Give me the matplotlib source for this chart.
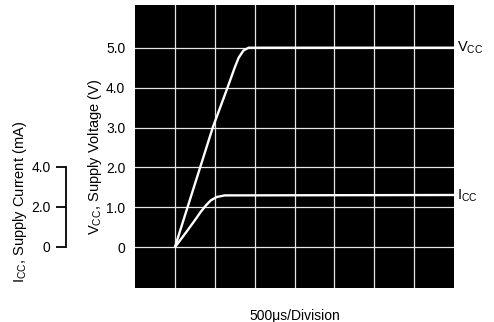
import matplotlib
matplotlib.use("Agg")
import matplotlib.pyplot as plt

plt.rcParams["font.family"] = ["Liberation Sans", "DejaVu Sans"]

# time in divisions (500 us / division)
vcc_t = [1.0, 1.95, 2.32, 2.5, 2.6, 2.72, 2.85, 8.0]
vcc_v = [0.0, 3.0, 4.0, 4.5, 4.75, 4.93, 5.0, 5.0]
icc_t = [1.0, 1.3, 1.5, 1.65, 1.78, 1.9, 2.05, 2.25, 8.0]
icc_ma = [0.0, 0.8, 1.35, 1.78, 2.1, 2.35, 2.52, 2.6, 2.62]

v_ticks = [0, 1, 2, 3, 4, 5]
v_labels = ["0", "1.0", "2.0", "3.0", "4.0", "5.0"]
i_ticks = [0, 2, 4]
i_labels = ["0", "2.0", "4.0"]
ma_per_volt = 2.0  # 4.0 mA on the current scale lines up with 2.0 V

fig = plt.figure(figsize=(4.94, 3.22), dpi=100)
ax = fig.add_axes([135 / 494, 1 - 288 / 322, 319 / 494, 283 / 322])
ax.set_facecolor("black")
ax.set_xlim(0, 8)
ax.set_ylim(-1.02, 6.07)
ax.set_xticks(range(1, 8))
ax.set_xticklabels([])
ax.set_yticks(v_ticks)
ax.set_yticklabels(v_labels, fontsize=10)
ax.tick_params(length=0, pad=7)
ax.grid(True, color="#e6e6e6", linewidth=0.9)
for s in ax.spines.values():
    s.set_visible(False)

ax.plot(vcc_t, vcc_v, color="white", linewidth=1.7, solid_capstyle="butt")
ax.plot(icc_t, [m / ma_per_volt for m in icc_ma], color="white", linewidth=1.7,
        solid_capstyle="butt")

ax.text(1.01, (5.0 + 1.02) / 7.09, "V$_{\\mathregular{CC}}$", transform=ax.transAxes,
        fontsize=10.5, va="center", ha="left")
ax.text(1.01, (1.3 + 1.02) / 7.09, "I$_{\\mathregular{CC}}$", transform=ax.transAxes,
        fontsize=10.5, va="center", ha="left")

fig.text(95 / 494, 1 - 157 / 322, "V$_{\\mathregular{CC}}$, Supply Voltage (V)",
         rotation=90, fontsize=10.5, ha="center", va="center")
fig.text(295 / 494, 1 - 316 / 322, "500\u03bcs/Division",
         fontsize=10, ha="center", va="center")

# current scale bracket
ax2 = fig.add_axes([66 / 494, 1 - 247 / 322, 0.001, 80 / 322])
ax2.set_ylim(0, 4)
ax2.set_xticks([])
ax2.set_yticks(i_ticks)
ax2.set_yticklabels(i_labels, fontsize=10)
ax2.tick_params(axis="y", length=7, width=1.3, pad=4)
for k in ["top", "right", "bottom"]:
    ax2.spines[k].set_visible(False)
ax2.spines["left"].set_linewidth(1.3)
ax2.patch.set_visible(False)
fig.text(20 / 494, 1 - 202 / 322, "I$_{\\mathregular{CC}}$, Supply Current (mA)",
         rotation=90, fontsize=10.5, ha="center", va="center")

fig.savefig("out.png", dpi=100)
